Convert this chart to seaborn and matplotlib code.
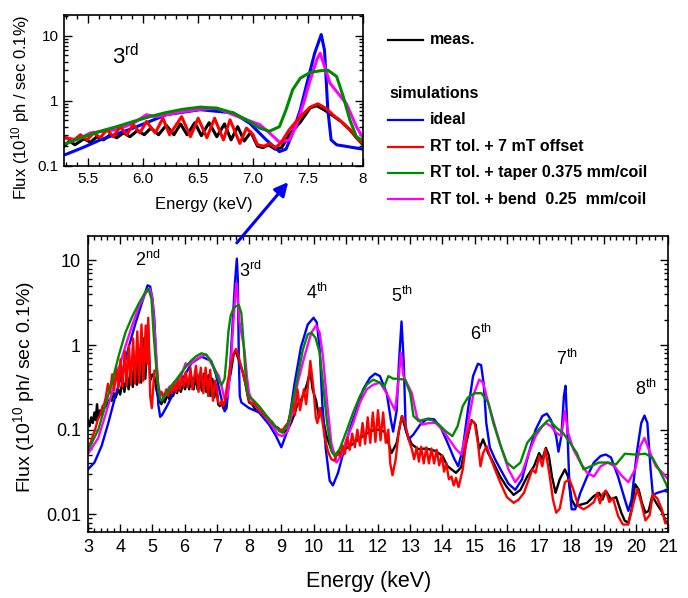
import numpy as np
import matplotlib
matplotlib.use("Agg")
import matplotlib.pyplot as plt
import seaborn as sns
from matplotlib.lines import Line2D
from matplotlib.patches import FancyArrowPatch
from matplotlib import font_manager
from matplotlib.ticker import MultipleLocator, LogLocator, FixedLocator, FixedFormatter, NullFormatter

# ---------------- data (energy keV, flux 1e10 ph/s/0.1%) ----------------
E_meas = [3.0, 3.05, 3.1, 3.15, 3.2, 3.24, 3.28, 3.32, 3.38, 3.44, 3.5, 3.56, 3.62, 3.68, 3.74, 3.8, 3.86, 3.94, 4.0,
          4.07, 4.13, 4.2, 4.26, 4.33, 4.39, 4.46, 4.52, 4.59, 4.65, 4.72, 4.78, 4.86, 4.93, 5.0, 5.06, 5.12, 5.2, 5.28,
          5.33, 5.38, 5.46, 5.52, 5.58, 5.64, 5.70, 5.76, 5.82, 5.88, 5.95, 6.01, 6.07, 6.14, 6.21, 6.28, 6.34, 6.40,
          6.47, 6.53, 6.60, 6.67, 6.74, 6.80, 6.86, 6.92, 6.98, 7.04, 7.09, 7.14, 7.2, 7.26, 7.33, 7.43, 7.52, 7.58,
          7.65, 7.72, 7.8, 7.88, 7.94, 8.0, 8.1, 8.2, 8.3, 8.4, 8.5, 8.6, 8.7, 8.8, 8.9, 9.0, 9.1, 9.2, 9.3, 9.4, 9.5,
          9.6, 9.7, 9.8, 9.9, 9.97, 10.08, 10.17, 10.24, 10.32, 10.4, 10.55, 10.7, 10.85, 11.0, 11.15, 11.3, 11.45,
          11.6, 11.75, 11.9, 12.05, 12.2, 12.3, 12.42, 12.58, 12.74, 12.89, 13.05, 13.26, 13.5, 13.79, 14.0, 14.16,
          14.42, 14.58, 14.74, 14.9, 15.03, 15.14, 15.26, 15.42, 15.58, 15.79, 16.0, 16.21, 16.42, 16.63, 16.84, 17.0,
          17.1, 17.21, 17.3, 17.4, 17.51, 17.64, 17.8, 17.9, 18.01, 18.12, 18.28, 18.49, 18.7, 18.86, 18.97, 19.07,
          19.23, 19.39, 19.55, 19.66, 19.77, 19.87, 19.98, 20.09, 20.19, 20.3, 20.4, 20.51, 20.67, 20.83, 20.94, 21.0]
F_meas = [0.13, 0.11, 0.14, 0.12, 0.16, 0.13, 0.2, 0.14, 0.17, 0.15, 0.18, 0.19, 0.21, 0.23, 0.22, 0.27, 0.24, 0.3, 0.26,
          0.38, 0.28, 0.45, 0.3, 0.55, 0.32, 0.7, 0.34, 0.9, 0.36, 1.2, 0.4, 1.75, 0.38, 0.45, 0.42, 0.3, 0.22, 0.2,
          0.24, 0.21, 0.26, 0.23, 0.28, 0.25, 0.30, 0.27, 0.32, 0.28, 0.35, 0.30, 0.38, 0.30, 0.42, 0.30, 0.44, 0.30,
          0.46, 0.29, 0.46, 0.28, 0.44, 0.25, 0.40, 0.24, 0.33, 0.20, 0.19, 0.21, 0.18, 0.19, 0.3, 0.47, 0.78, 0.84,
          0.72, 0.6, 0.48, 0.36, 0.27, 0.21, 0.2, 0.17, 0.165, 0.15, 0.145, 0.13, 0.125, 0.11, 0.105, 0.095, 0.094,
          0.1, 0.12, 0.15, 0.2, 0.22, 0.27, 0.35, 0.5, 0.3, 0.22, 0.14, 0.18, 0.12, 0.085, 0.058, 0.05, 0.055, 0.06,
          0.065, 0.072, 0.08, 0.088, 0.095, 0.1, 0.1, 0.095, 0.075, 0.053, 0.07, 0.145, 0.092, 0.067, 0.059, 0.06,
          0.056, 0.049, 0.037, 0.031, 0.036, 0.07, 0.13, 0.115, 0.059, 0.077, 0.053, 0.041, 0.028, 0.021, 0.017,
          0.0195, 0.028, 0.037, 0.053, 0.045, 0.061, 0.05, 0.028, 0.018, 0.026, 0.034, 0.028, 0.015, 0.0125, 0.013,
          0.0137, 0.0165, 0.018, 0.015, 0.019, 0.015, 0.016, 0.0105, 0.0084, 0.008, 0.0115, 0.0227, 0.0197, 0.0137,
          0.0105, 0.011, 0.0165, 0.013, 0.0105, 0.008, 0.0082]

E_ideal = [3.0, 3.2, 3.42, 3.63, 3.85, 4.06, 4.27, 4.48, 4.69, 4.85, 4.93, 5.0, 5.06, 5.12, 5.18, 5.24, 5.3, 5.45, 5.61,
           5.91, 6.21, 6.52, 6.82, 6.97, 7.12, 7.24, 7.30, 7.36, 7.43, 7.49, 7.56, 7.62, 7.65, 7.68, 7.71, 7.76, 8.0,
           8.31, 8.62, 8.83, 9.0, 9.2, 9.41, 9.61, 9.82, 10.0, 10.1, 10.19, 10.27, 10.38, 10.5, 10.6, 10.76, 10.92,
           11.12, 11.33, 11.54, 11.75, 11.91, 12.06, 12.27, 12.4, 12.47, 12.58, 12.65, 12.73, 12.8, 12.86, 12.95, 13.1,
           13.31, 13.53, 13.74, 13.95, 14.16, 14.37, 14.49, 14.63, 14.79, 14.95, 15.1, 15.2, 15.28, 15.36, 15.47,
           15.63, 15.84, 16.05, 16.26, 16.47, 16.68, 16.89, 17.1, 17.24, 17.37, 17.53, 17.6, 17.69, 17.77, 17.82,
           17.87, 17.94, 18.01, 18.12, 18.28, 18.49, 18.7, 18.91, 19.07, 19.23, 19.45, 19.66, 19.77, 19.87, 20.03,
           20.17, 20.27, 20.36, 20.46, 20.53, 20.67, 20.88, 21.0]
F_ideal = [0.034, 0.041, 0.064, 0.12, 0.25, 0.47, 0.97, 1.84, 3.3, 5.07, 4.9, 3.5, 2.0, 0.6, 0.2, 0.142, 0.15, 0.19, 0.25,
           0.38, 0.61, 0.73, 0.65, 0.45, 0.25, 0.165, 0.18, 0.32, 0.73, 1.87, 5.4, 10.5, 6.0, 0.73, 0.25, 0.21, 0.18,
           0.16, 0.115, 0.085, 0.062, 0.1, 0.35, 0.95, 1.75, 2.1, 1.85, 0.9, 0.21, 0.059, 0.025, 0.022, 0.031, 0.053,
           0.1, 0.17, 0.3, 0.41, 0.46, 0.43, 0.27, 0.13, 0.095, 0.17, 0.62, 1.9, 0.62, 0.1, 0.077, 0.088, 0.115, 0.135,
           0.133, 0.106, 0.07, 0.045, 0.037, 0.059, 0.17, 0.43, 0.6, 0.58, 0.35, 0.12, 0.062, 0.045, 0.032, 0.023,
           0.0195, 0.026, 0.053, 0.1, 0.145, 0.155, 0.13, 0.084, 0.055, 0.084, 0.25, 0.33, 0.12, 0.022, 0.0115,
           0.0115, 0.018, 0.028, 0.041, 0.049, 0.051, 0.047, 0.028, 0.015, 0.011, 0.015, 0.053, 0.12, 0.147, 0.12,
           0.034, 0.017, 0.018, 0.019, 0.0185]

E_offset = [3.0, 3.08, 3.15, 3.22, 3.3, 3.38, 3.45, 3.5, 3.55, 3.62, 3.68, 3.75, 3.81, 3.88, 3.94, 4.01, 4.07, 4.14, 4.2,
            4.27, 4.33, 4.4, 4.46, 4.53, 4.59, 4.66, 4.72, 4.79, 4.83, 4.87, 4.93, 4.98, 5.06, 5.14, 5.2, 5.28, 5.36,
            5.43, 5.49, 5.55, 5.61, 5.67, 5.73, 5.79, 5.85, 5.91, 5.97, 6.03, 6.11, 6.18, 6.24, 6.35, 6.43, 6.5, 6.58,
            6.65, 6.73, 6.79, 6.88, 6.94, 7.0, 7.04, 7.1, 7.15, 7.2, 7.25, 7.33, 7.43, 7.52, 7.59, 7.67, 7.73, 7.79,
            7.85, 7.91, 7.96, 8.0, 8.08, 8.15, 8.25, 8.35, 8.45, 8.55, 8.65, 8.75, 8.85, 8.95, 9.05, 9.12, 9.2, 9.3,
            9.36, 9.42, 9.5, 9.58, 9.7, 9.77, 9.9, 10.0, 10.07, 10.12, 10.2, 10.27, 10.35, 10.45, 10.55, 10.65, 10.75,
            10.82, 10.9, 10.97, 11.05, 11.12, 11.2, 11.28, 11.36, 11.44, 11.52, 11.6, 11.68, 11.76, 11.84, 11.92, 12.0,
            12.08, 12.16, 12.24, 12.32, 12.38, 12.45, 12.55, 12.65, 12.75, 12.84, 12.95, 13.05, 13.12, 13.2, 13.27,
            13.34, 13.42, 13.5, 13.58, 13.66, 13.74, 13.82, 13.9, 13.98, 14.05, 14.12, 14.2, 14.28, 14.35, 14.42, 14.5,
            14.63, 14.76, 14.9, 15.0, 15.1, 15.18, 15.26, 15.37, 15.47, 15.63, 15.79, 16.0, 16.21, 16.37, 16.53, 16.68,
            16.79, 16.89, 17.0, 17.1, 17.19, 17.32, 17.43, 17.53, 17.64, 17.8, 17.94, 18.06, 18.22, 18.38, 18.54, 18.7,
            18.81, 18.89, 18.97, 19.07, 19.18, 19.29, 19.45, 19.6, 19.77, 19.93, 20.05, 20.17, 20.3, 20.43, 20.53,
            20.67, 20.81, 20.91, 21.0]
F_offset = [0.058, 0.07, 0.085, 0.1, 0.13, 0.15, 0.19, 0.2, 0.24, 0.35, 0.27, 0.45, 0.29, 0.55, 0.31, 0.68, 0.32, 0.85,
            0.33, 1.0, 0.34, 1.2, 0.35, 1.45, 0.36, 1.75, 0.38, 1.7, 0.6, 2.1, 0.25, 0.18, 0.5, 0.5, 0.27, 0.28, 0.24,
            0.30, 0.25, 0.32, 0.27, 0.36, 0.28, 0.40, 0.30, 0.43, 0.32, 0.48, 0.32, 0.54, 0.30, 0.57, 0.28, 0.54, 0.27,
            0.54, 0.25, 0.51, 0.22, 0.38, 0.3, 0.21, 0.2, 0.22, 0.19, 0.22, 0.36, 0.57, 0.8, 0.9, 0.75, 0.6, 0.5, 0.4,
            0.32, 0.25, 0.22, 0.2, 0.21, 0.18, 0.17, 0.15, 0.14, 0.125, 0.115, 0.105, 0.1, 0.1, 0.11, 0.12, 0.16, 0.22,
            0.15, 0.3, 0.17, 0.3, 0.2, 0.65, 0.3, 0.14, 0.12, 0.18, 0.13, 0.08, 0.055, 0.045, 0.043, 0.055, 0.048,
            0.065, 0.052, 0.08, 0.058, 0.09, 0.062, 0.1, 0.065, 0.12, 0.068, 0.14, 0.07, 0.16, 0.072, 0.17, 0.075, 0.16,
            0.07, 0.1, 0.04, 0.029, 0.045, 0.1, 0.145, 0.12, 0.077, 0.059, 0.045, 0.062, 0.042, 0.063, 0.04, 0.062,
            0.04, 0.06, 0.04, 0.058, 0.038, 0.05, 0.032, 0.04, 0.026, 0.028, 0.022, 0.027, 0.021, 0.034, 0.084, 0.127,
            0.12, 0.07, 0.037, 0.053, 0.064, 0.049, 0.034, 0.024, 0.016, 0.0137, 0.015, 0.018, 0.026, 0.034, 0.031,
            0.049, 0.037, 0.059, 0.03, 0.015, 0.0105, 0.0117, 0.024, 0.026, 0.0197, 0.0125, 0.0115, 0.0125, 0.014,
            0.018, 0.0135, 0.0173, 0.019, 0.014, 0.0157, 0.0096, 0.0076, 0.0076, 0.0137, 0.02, 0.0137, 0.0085, 0.0098,
            0.0173, 0.0154, 0.0115, 0.008, 0.0078]

E_taper = [3.0, 3.32, 3.53, 3.74, 3.95, 4.16, 4.38, 4.59, 4.8, 4.88, 4.97, 5.04, 5.15, 5.24, 5.3, 5.46, 5.61, 5.76, 5.91,
           6.06, 6.21, 6.36, 6.52, 6.67, 6.82, 6.94, 7.06, 7.15, 7.24, 7.3, 7.36, 7.43, 7.52, 7.61, 7.68, 7.76, 7.82,
           7.88, 7.94, 8.0, 8.1, 8.31, 8.52, 8.73, 8.94, 9.04, 9.2, 9.35, 9.51, 9.67, 9.82, 9.93, 10.06, 10.19, 10.29,
           10.42, 10.55, 10.66, 10.81, 11.02, 11.23, 11.44, 11.65, 11.85, 12.06, 12.19, 12.32, 12.48, 12.6, 12.84,
           13.0, 13.1, 13.26, 13.47, 13.68, 13.89, 14.1, 14.31, 14.47, 14.63, 14.79, 15.0, 15.21, 15.42, 15.58, 15.79,
           16.0, 16.21, 16.42, 16.63, 16.84, 17.05, 17.26, 17.32, 17.53, 17.74, 17.96, 18.17, 18.38, 18.6, 18.86,
           19.13, 19.39, 19.66, 19.98, 20.3, 20.51, 20.72, 20.94, 21.0]
F_taper = [0.057, 0.1, 0.19, 0.36, 0.74, 1.4, 2.2, 3.16, 4.35, 4.6, 3.5, 1.3, 0.39, 0.23, 0.22, 0.28, 0.34, 0.40, 0.48,
           0.57, 0.66, 0.74, 0.80, 0.77, 0.65, 0.51, 0.38, 0.34, 0.40, 0.73, 1.48, 2.24, 2.74, 2.9, 2.97, 2.37, 1.17,
           0.51, 0.28, 0.24, 0.23, 0.19, 0.15, 0.12, 0.096, 0.092, 0.115, 0.21, 0.43, 0.89, 1.34, 1.4, 1.22, 0.81,
           0.36, 0.12, 0.056, 0.049, 0.059, 0.096, 0.16, 0.25, 0.34, 0.39, 0.36, 0.32, 0.43, 0.4, 0.4, 0.39, 0.27,
           0.145, 0.127, 0.133, 0.13, 0.115, 0.096, 0.084, 0.11, 0.19, 0.24, 0.27, 0.27, 0.21, 0.12, 0.067, 0.041,
           0.035, 0.041, 0.07, 0.088, 0.106, 0.128, 0.13, 0.106, 0.092, 0.07, 0.053, 0.034, 0.037, 0.041, 0.041,
           0.039, 0.052, 0.051, 0.052, 0.047, 0.034, 0.023, 0.0197]

E_bend = [3.0, 3.32, 3.53, 3.74, 3.95, 4.16, 4.38, 4.59, 4.8, 4.92, 5.0, 5.08, 5.18, 5.26, 5.3, 5.4, 5.52, 5.64, 5.76,
          5.91, 6.03, 6.12, 6.21, 6.36, 6.52, 6.67, 6.82, 6.94, 7.06, 7.15, 7.24, 7.33, 7.39, 7.46, 7.52, 7.58, 7.61,
          7.65, 7.7, 7.76, 7.85, 7.94, 8.0, 8.1, 8.31, 8.52, 8.73, 8.89, 9.04, 9.2, 9.35, 9.51, 9.72, 9.93, 10.08,
          10.19, 10.29, 10.42, 10.55, 10.71, 10.86, 11.02, 11.23, 11.44, 11.65, 11.85, 12.06, 12.27, 12.43, 12.53,
          12.63, 12.71, 12.79, 12.89, 13.05, 13.21, 13.37, 13.58, 13.79, 14.0, 14.21, 14.42, 14.58, 14.74, 14.95,
          15.14, 15.26, 15.42, 15.63, 15.84, 16.05, 16.26, 16.47, 16.68, 16.89, 17.1, 17.21, 17.37, 17.53, 17.69,
          17.8, 17.9, 18.06, 18.28, 18.49, 18.7, 18.91, 19.13, 19.34, 19.55, 19.77, 19.98, 20.14, 20.27, 20.4, 20.62,
          20.83, 21.0]
F_bend = [0.052, 0.08, 0.145, 0.27, 0.52, 0.97, 1.75, 2.89, 4.15, 4.6, 3.6, 1.28, 0.33, 0.25, 0.27, 0.25, 0.32, 0.34,
          0.36, 0.45, 0.61, 0.57, 0.61, 0.68, 0.74, 0.77, 0.61, 0.51, 0.43, 0.32, 0.23, 0.25, 0.40, 0.92, 2.1, 4.3,
          5.4, 3.4, 1.87, 1.39, 0.9, 0.4, 0.27, 0.22, 0.17, 0.14, 0.11, 0.088, 0.084, 0.096, 0.17, 0.36, 0.74, 1.4,
          1.7, 1.4, 0.74, 0.21, 0.07, 0.041, 0.049, 0.077, 0.12, 0.21, 0.3, 0.34, 0.36, 0.27, 0.2, 0.17, 0.36, 0.81,
          0.43, 0.36, 0.27, 0.14, 0.115, 0.12, 0.12, 0.1, 0.077, 0.059, 0.051, 0.092, 0.25, 0.39, 0.36, 0.21, 0.11,
          0.059, 0.034, 0.024, 0.031, 0.053, 0.084, 0.11, 0.12, 0.11, 0.092, 0.084, 0.166, 0.092, 0.059, 0.041,
          0.031, 0.028, 0.037, 0.041, 0.037, 0.029, 0.024, 0.034, 0.064, 0.08, 0.059, 0.037, 0.031, 0.026]

harm_labels = ["2", "3", "4", "5", "6", "7", "8"]
harm_sups = ["nd", "rd", "th", "th", "th", "th", "th"]
harm_E = [4.85, 8.05, 10.1, 12.75, 15.2, 17.85, 20.32]
harm_F = [10.0, 7.4, 4.1, 3.85, 1.35, 0.68, 0.30]

legend_labels = ["ideal", "RT tol. + 7 mT offset", "RT tol. + taper 0.375 mm/coil", "RT tol. + bend  0.25  mm/coil"]
main_xticks = list(range(3, 22))
inset_xticks = [5.5, 6.0, 6.5, 7.0, 7.5, 8.0]
inset_xticklabels = ["5.5", "6.0", "6.5", "7.0", "7.5", "8"]

# ---------------- style ----------------
names = {f.name for f in font_manager.fontManager.ttflist}
base = "Liberation Sans" if "Liberation Sans" in names else "DejaVu Sans"
narrow = "Liberation Sans Narrow" if "Liberation Sans Narrow" in names else None
plt.rcParams["font.family"] = [base, "DejaVu Sans"]
plt.rcParams["mathtext.fontset"] = "custom"
plt.rcParams["mathtext.rm"] = base
plt.rcParams["mathtext.it"] = base
plt.rcParams["mathtext.bf"] = base + ":bold"

W, H = 688, 598
fig = plt.figure(figsize=(W / 100, H / 100), dpi=100)

def fx(x):
    return x / W

def fy(y):
    return 1 - y / H

ax = fig.add_axes([fx(88), fy(532), 580 / W, 296 / H])
axi = fig.add_axes([fx(64), fy(166), 299 / W, 151 / H])

series = [(E_meas, F_meas, "black"), (E_ideal, F_ideal, "#0000ff"), (E_bend, F_bend, "#ff00ff"),
          (E_offset, F_offset, "#ff0000"), (E_taper, F_taper, "#008a00")]

for a, lw in ((ax, 1.7), (axi, 2.2)):
    for E, F, c in series:
        sns.lineplot(x=np.array(E), y=np.array(F), ax=a, color=c, linewidth=lw,
                     estimator=None, sort=False, legend=False)
    a.set_yscale("log")
    for sp in a.spines.values():
        sp.set_linewidth(1.2)
    a.tick_params(which="both", direction="in", top=True, right=True, width=1.0)
    a.tick_params(which="major", length=6)
    a.tick_params(which="minor", length=3)
    a.yaxis.set_minor_locator(LogLocator(base=10, subs=np.arange(2, 10)))
    a.yaxis.set_minor_formatter(NullFormatter())

# main axes
ax.set_xlim(3, 21)
ax.set_ylim(0.0062, 19.4)
ax.xaxis.set_major_locator(FixedLocator(main_xticks))
ax.xaxis.set_minor_locator(MultipleLocator(0.2))
ax.set_xticklabels([str(t) for t in main_xticks])
ax.yaxis.set_major_locator(FixedLocator([0.01, 0.1, 1, 10]))
ax.yaxis.set_major_formatter(FixedFormatter(["0.01", "0.1", "1", "10"]))
ax.tick_params(labelsize=13, pad=5)
ax.set_xlabel("Energy (keV)", fontsize=15.5)
ax.set_ylabel(r"Flux (10$^{10}$ ph/ sec 0.1%)", fontsize=14)
ax.xaxis.set_label_coords(0.483, -0.133)
ax.yaxis.set_label_coords(-0.088, 0.49)

for lab, sup, e, f in zip(harm_labels, harm_sups, harm_E, harm_F):
    ax.text(e, f, lab + r"$^{\mathregular{" + sup + "}}$", fontsize=13, ha="center", va="center")

# inset axes
axi.set_xlim(5.28, 8.0)
axi.set_ylim(0.099, 21.0)
axi.xaxis.set_major_locator(FixedLocator(inset_xticks))
axi.xaxis.set_major_formatter(FixedFormatter(inset_xticklabels))
axi.xaxis.set_minor_locator(MultipleLocator(0.1))
axi.yaxis.set_major_locator(FixedLocator([0.1, 1, 10]))
axi.yaxis.set_major_formatter(FixedFormatter(["0.1", "1", "10"]))
axi.tick_params(labelsize=11, pad=4)
axi.set_xlabel("Energy (keV)", fontsize=12)
axi.set_ylabel(r"Flux (10$^{10}$ ph / sec 0.1%)", fontsize=12)
axi.xaxis.set_label_coords(0.468, -0.205)
axi.yaxis.set_label_coords(-0.107, 0.39)
axi.text(5.84, 4.8, r"3$^{\mathregular{rd}}$", fontsize=16, ha="center", va="center")

# arrow
fig.add_artist(FancyArrowPatch((fx(235), fy(245)), (fx(290), fy(180)), transform=fig.transFigure,
                               arrowstyle="-|>", mutation_scale=20, color="#0000ff", lw=2.2))

# legend
lfam = [narrow, base] if narrow else [base]
lsize = 13.5 if narrow else 11.5
fig.add_artist(Line2D([fx(388), fx(423)], [fy(40), fy(40)], color="black", lw=1.6, transform=fig.transFigure))
fig.text(fx(430), fy(40), "meas.", fontsize=lsize, fontweight="bold", family=lfam, va="center", ha="left")
fig.text(fx(389), fy(93), "simulations", fontsize=lsize, fontweight="bold", family=lfam, va="center", ha="left")
for lab, c, y in zip(legend_labels, ["#0000ff", "#ff0000", "#008a00", "#ff00ff"], [120, 147, 173, 199]):
    fig.add_artist(Line2D([fx(388), fx(423)], [fy(y), fy(y)], color=c, lw=1.6, transform=fig.transFigure))
    fig.text(fx(430), fy(y), lab, fontsize=lsize, fontweight="bold", family=lfam, va="center", ha="left")

fig.savefig("out.png", dpi=100)
